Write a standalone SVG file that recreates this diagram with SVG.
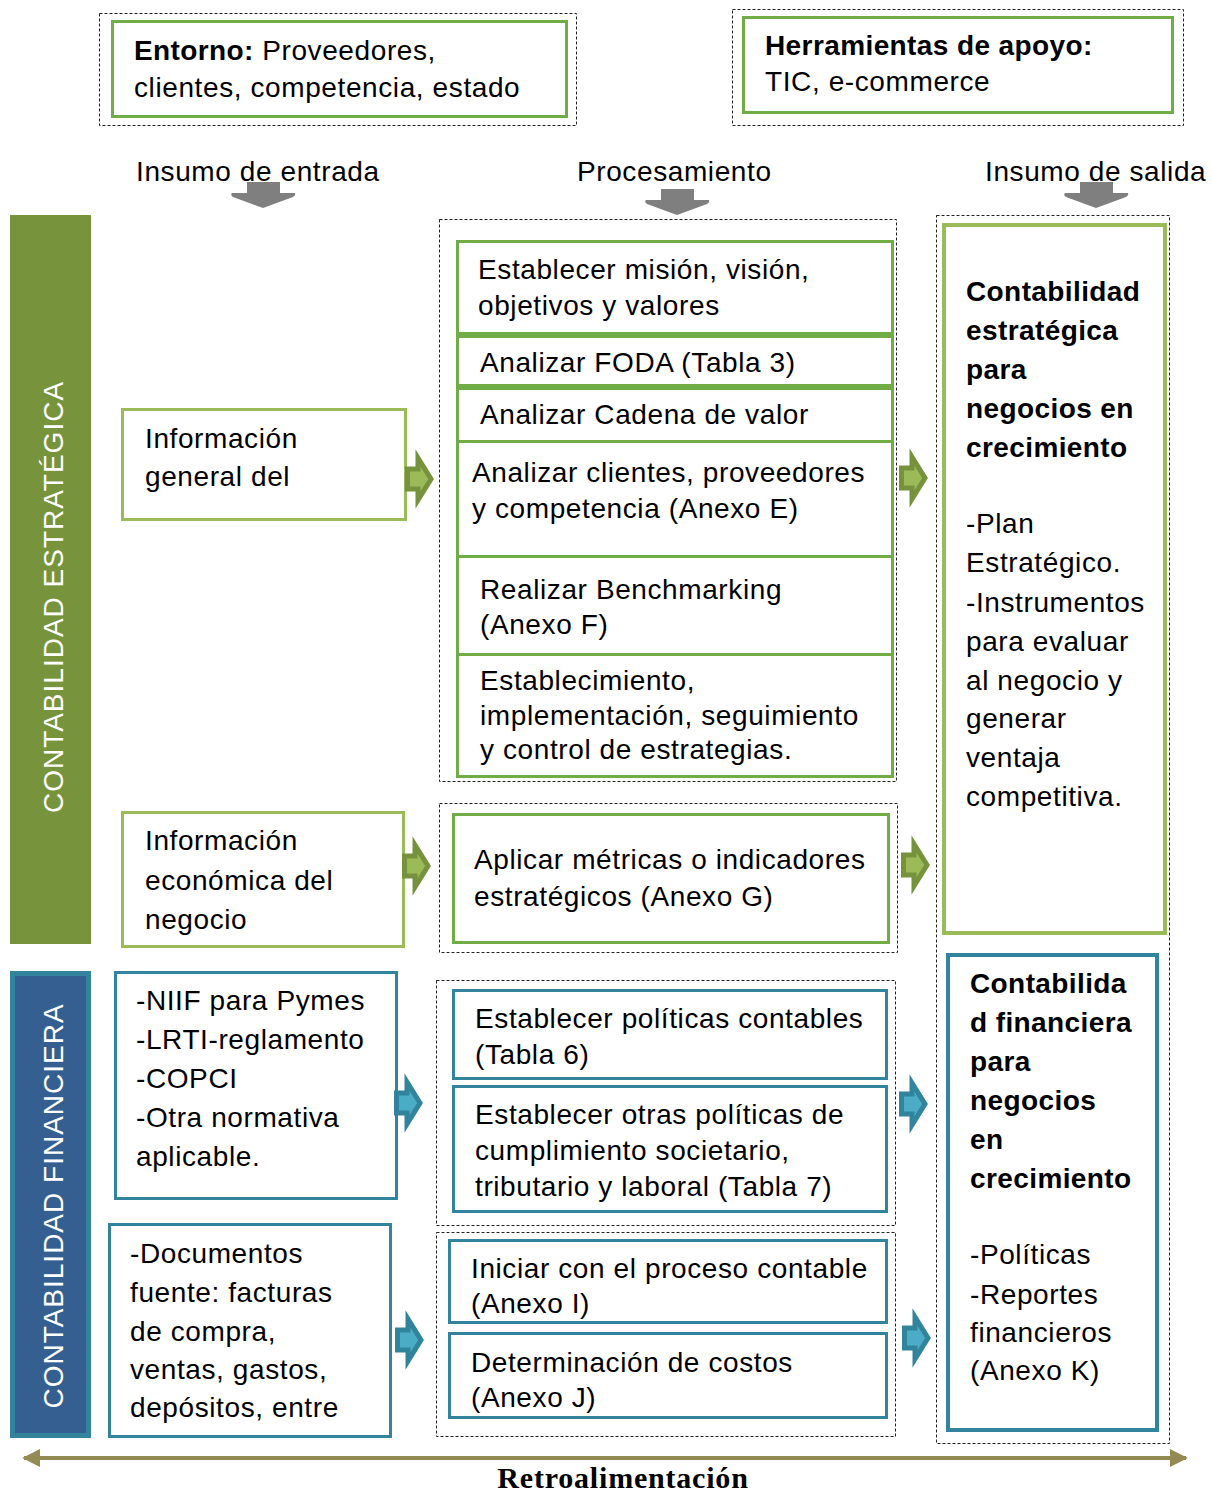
<svg xmlns="http://www.w3.org/2000/svg" width="1212" height="1495" viewBox="0 0 1212 1495">
<style>
text{font-family:"Liberation Sans",Arial,sans-serif;font-size:28px;letter-spacing:0.6px;fill:#000}
.b{font-weight:bold;letter-spacing:0.4px}
.dash{fill:none;stroke:#222;stroke-width:1;stroke-dasharray:3 2}
.g{fill:#fff;stroke:#70AD47;stroke-width:3}
.lg{fill:#fff;stroke:#9BBB59;stroke-width:3}
.bl{fill:#fff;stroke:#31849B;stroke-width:3}
.garr{fill:#9BBB59;stroke:#76923C;stroke-width:5}
.barr{fill:#4BACC6;stroke:#31849B;stroke-width:5}
.wt{fill:#fff;font-size:28px;letter-spacing:1px}
</style>
<defs>
<path id="ra" d="M2.5,15 L13,15 L13,4 L26,25 L13,46 L13,35 L2.5,35 Z"/>
<path id="da" d="M-16,0 L17,0 L17,11 L32,11 Q33,13 30,15 L0,26 L-30,15 Q-33,13 -31,11 L-16,11 Z"/>
<marker id="ah" viewBox="0 0 10 10" refX="9" refY="5" markerWidth="4.5" markerHeight="4.5" orient="auto-start-reverse"><path d="M0,0 L10,5 L0,10 Z" fill="#948A54"/></marker>
</defs>

<g id="entorno">
<rect class="dash" x="99.5" y="13.5" width="477" height="112"/>
<rect class="g" x="112.5" y="21.5" width="454" height="95"/>
<text x="134" y="60"><tspan class="b">Entorno:</tspan> Proveedores,</text>
<text x="134" y="97">clientes, competencia, estado</text>
</g>

<g id="herramientas">
<rect class="dash" x="732.5" y="9.5" width="451" height="116"/>
<rect class="g" x="743.5" y="17.5" width="429" height="95"/>
<text x="765" y="55" class="b">Herramientas de apoyo:</text>
<text x="765" y="91">TIC, e-commerce</text>
</g>

<g id="headings">
<text x="136" y="181">Insumo de entrada</text>
<text x="577" y="181">Procesamiento</text>
<text x="985" y="181">Insumo de salida</text>
<use href="#da" x="263" y="182" fill="#7F7F7F"/>
<use href="#da" x="677" y="189" fill="#7F7F7F"/>
<use href="#da" x="1096" y="182" fill="#7F7F7F"/>
</g>

<g id="bar-estrategica">
<rect x="10" y="215" width="81" height="729" fill="#77933C"/>
<text class="wt" transform="translate(63,597) rotate(-90)" text-anchor="middle">CONTABILIDAD ESTRATÉGICA</text>
</g>

<g id="bar-financiera">
<rect x="12.5" y="973.5" width="76" height="462" fill="#365F91" stroke="#31849B" stroke-width="5"/>
<text class="wt" transform="translate(63,1206) rotate(-90)" text-anchor="middle">CONTABILIDAD FINANCIERA</text>
</g>

<g id="in-general">
<rect class="lg" x="122.5" y="409.5" width="283" height="110"/>
<text x="145" y="448">Información</text>
<text x="145" y="486">general del</text>
</g>

<g id="in-economica">
<rect class="lg" x="122.5" y="812.5" width="281" height="134"/>
<text x="145" y="850">Información</text>
<text x="145" y="890">económica del</text>
<text x="145" y="929">negocio</text>
</g>

<g id="proc-estrategico">
<rect class="dash" x="439.5" y="219.5" width="457" height="562"/>
<rect class="g" x="457.5" y="241.5" width="435" height="92"/>
<text x="478" y="279">Establecer misión, visión,</text>
<text x="478" y="315">objetivos y valores</text>
<rect class="g" x="457.5" y="336.5" width="435" height="49"/>
<text x="480" y="372">Analizar FODA (Tabla 3)</text>
<rect class="g" x="457.5" y="388.5" width="435" height="53"/>
<text x="480" y="424">Analizar Cadena de valor</text>
<rect class="g" x="457.5" y="441.5" width="435" height="115"/>
<text x="472" y="482">Analizar clientes, proveedores</text>
<text x="472" y="518">y competencia (Anexo E)</text>
<rect class="g" x="457.5" y="556.5" width="435" height="98"/>
<text x="480" y="599">Realizar Benchmarking</text>
<text x="480" y="634">(Anexo F)</text>
<rect class="g" x="457.5" y="654.5" width="435" height="122"/>
<text x="480" y="690">Establecimiento,</text>
<text x="480" y="725">implementación, seguimiento</text>
<text x="480" y="759">y control de estrategias.</text>
</g>

<g id="proc-metricas">
<rect class="dash" x="439.5" y="803.5" width="458" height="149"/>
<rect class="g" x="453.5" y="814.5" width="435" height="128"/>
<text x="474" y="869">Aplicar métricas o indicadores</text>
<text x="474" y="906">estratégicos (Anexo G)</text>
</g>

<g id="out-estrategica">
<rect class="dash" x="936.5" y="215.5" width="233" height="1228"/>
<rect fill="#fff" stroke="#9BBB59" stroke-width="4" x="944" y="225" width="221" height="708"/>
<text x="966" y="301" class="b">Contabilidad</text>
<text x="966" y="340" class="b">estratégica</text>
<text x="966" y="379" class="b">para</text>
<text x="966" y="418" class="b">negocios en</text>
<text x="966" y="457" class="b">crecimiento</text>
<text x="966" y="533">-Plan</text>
<text x="966" y="572">Estratégico.</text>
<text x="966" y="612">-Instrumentos</text>
<text x="966" y="651">para evaluar</text>
<text x="966" y="690">al negocio y</text>
<text x="966" y="728">generar</text>
<text x="966" y="767">ventaja</text>
<text x="966" y="806">competitiva.</text>
</g>

<g id="in-normativa">
<rect class="bl" x="115.5" y="972.5" width="281" height="226"/>
<text x="136" y="1010">-NIIF para Pymes</text>
<text x="136" y="1049">-LRTI-reglamento</text>
<text x="136" y="1088">-COPCI</text>
<text x="136" y="1127">-Otra normativa</text>
<text x="136" y="1166">aplicable.</text>
</g>

<g id="in-documentos">
<rect class="bl" x="109.5" y="1224.5" width="281" height="212"/>
<text x="130" y="1263">-Documentos</text>
<text x="130" y="1302">fuente: facturas</text>
<text x="130" y="1341">de compra,</text>
<text x="130" y="1379">ventas, gastos,</text>
<text x="130" y="1417">depósitos, entre</text>
</g>

<g id="proc-politicas">
<rect class="dash" x="436.5" y="980.5" width="459" height="245"/>
<rect class="bl" x="453.5" y="990.5" width="433" height="88"/>
<text x="475" y="1028">Establecer políticas contables</text>
<text x="475" y="1064">(Tabla 6)</text>
<rect class="bl" x="453.5" y="1086.5" width="433" height="125"/>
<text x="475" y="1124">Establecer otras políticas de</text>
<text x="475" y="1160">cumplimiento societario,</text>
<text x="475" y="1196">tributario y laboral (Tabla 7)</text>
</g>

<g id="proc-contable">
<rect class="dash" x="436.5" y="1232.5" width="459" height="204"/>
<rect class="bl" x="449.5" y="1240.5" width="437" height="82"/>
<text x="471" y="1278">Iniciar con el proceso contable</text>
<text x="471" y="1313">(Anexo I)</text>
<rect class="bl" x="449.5" y="1333.5" width="437" height="84"/>
<text x="471" y="1372">Determinación de costos</text>
<text x="471" y="1407">(Anexo J)</text>
</g>

<g id="out-financiera">
<rect fill="#fff" stroke="#31849B" stroke-width="4" x="948" y="955" width="209" height="475"/>
<text x="970" y="993" class="b">Contabilida</text>
<text x="970" y="1032" class="b">d financiera</text>
<text x="970" y="1071" class="b">para</text>
<text x="970" y="1110" class="b">negocios</text>
<text x="970" y="1149" class="b">en</text>
<text x="970" y="1188" class="b">crecimiento</text>
<text x="970" y="1264">-Políticas</text>
<text x="970" y="1304">-Reportes</text>
<text x="970" y="1342">financieros</text>
<text x="970" y="1380">(Anexo K)</text>
</g>

<g id="connectors">
<use href="#ra" x="405" y="454" class="garr"/>
<use href="#ra" x="899" y="453" class="garr"/>
<use href="#ra" x="402" y="841" class="garr"/>
<use href="#ra" x="901" y="840" class="garr"/>
<use href="#ra" x="394" y="1078" class="barr"/>
<use href="#ra" x="899" y="1079" class="barr"/>
<use href="#ra" x="395" y="1315" class="barr"/>
<use href="#ra" x="902" y="1313" class="barr"/>
<line x1="24" y1="1458" x2="1186" y2="1458" stroke="#948A54" stroke-width="4" marker-start="url(#ah)" marker-end="url(#ah)"/>
</g>

<text x="623" y="1488" text-anchor="middle" style="font-family:'Liberation Serif','Times New Roman',serif;font-weight:bold;font-size:30px;letter-spacing:0.8px">Retroalimentación</text>
</svg>
